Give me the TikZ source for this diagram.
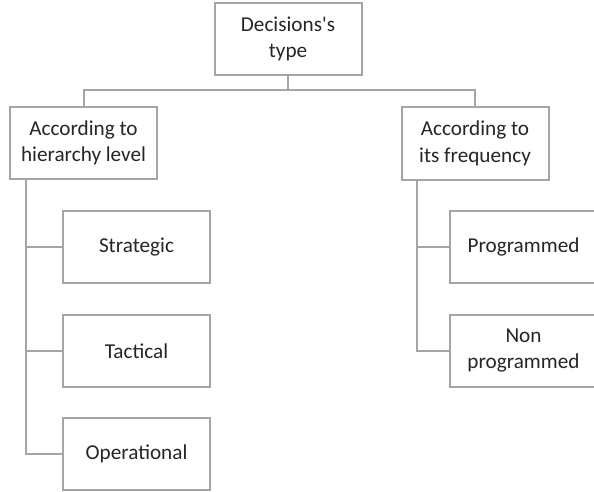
\documentclass[tikz,border=0pt]{standalone}
\usepackage{fontspec}
\setmainfont{Carlito}[Ligatures=TeXOff]
\definecolor{linegray}{HTML}{A5A5A5}
\definecolor{txt}{HTML}{262626}
\begin{document}
\begin{tikzpicture}[x=1pt,y=-1pt,
  box/.style={draw=linegray,line width=2pt,fill=white,minimum width=147pt,minimum height=72pt,
    inner sep=0pt,align=center,text=txt,font=\fontsize{21.2}{26.5}\selectfont},
  conn/.style={draw=linegray,line width=2pt}]
\useasboundingbox (0,0) rectangle (594,492);
\node[box] (top) at (288,39) {Decisions's\\type};
\node[box] (left) at (83.5,143) {According to\\hierarchy level};
\node[box] (right) at (475,143.5) {According to\\its frequency};
\node[box] (strat) at (136.5,247) {Strategic};
\node[box] (tact) at (136.5,351) {Tactical};
\node[box] (oper) at (136.5,454) {Operational};
\node[box] (prog) at (523.5,246.5) {Programmed};
\node[box] (nonp) at (523.5,350.5) {Non\\programmed};
\coordinate (hub) at (288,90);
\coordinate (lx) at (26,0);
\coordinate (rx) at (417,0);
\draw[conn] (top.south) -- (hub);
\draw[conn] (left.north) -- (left.north |- hub) -- (right.north |- hub) -- (right.north);
\draw[conn] (left.south -| lx) -- (oper.west -| lx) -- (oper.west);
\draw[conn] (strat.west -| lx) -- (strat.west);
\draw[conn] (tact.west -| lx) -- (tact.west);
\draw[conn] (right.south -| rx) -- (nonp.west -| rx) -- (nonp.west);
\draw[conn] (prog.west -| rx) -- (prog.west);
\end{tikzpicture}
\end{document}
